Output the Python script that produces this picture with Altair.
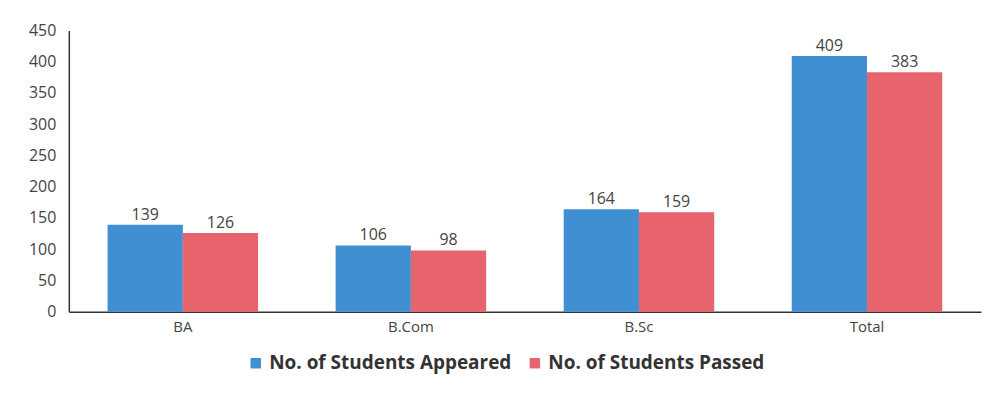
import altair as alt
import pandas as pd

categories = ["BA", "B.Com", "B.Sc", "Total"]
appeared = [139, 106, 164, 409]
passed = [126, 98, 159, 383]
series = ["No. of Students Appeared", "No. of Students Passed"]

rows = []
for c, a, p in zip(categories, appeared, passed):
    rows.append({"cat": c, "series": series[0], "value": a})
    rows.append({"cat": c, "series": series[1], "value": p})
df = pd.DataFrame(rows)

font = "Open Sans"
color = alt.Color(
    "series:N",
    sort=series,
    scale=alt.Scale(domain=series, range=["#3f8fd2", "#e8646c"]),
    legend=alt.Legend(
        orient="none", legendX=178, legendY=324, title=None, direction="horizontal",
        symbolType="square", symbolSize=110, symbolStrokeWidth=0,
        labelFont=font, labelFontSize=19, labelFontWeight="bold",
        labelColor="#333333", columnPadding=14, labelLimit=400,
    ),
)

base = alt.Chart(df).encode(
    x=alt.X("cat:N", sort=categories,
            scale=alt.Scale(paddingInner=0.34, paddingOuter=0.17),
            axis=alt.Axis(title=None, labelAngle=0, ticks=False, labelFont=font,
                          labelFontSize=15, labelColor="#444444", labelPadding=8,
                          domainColor="#333333", domainWidth=1.5)),
    y=alt.Y("value:Q", scale=alt.Scale(domain=[0, 450]),
            axis=alt.Axis(title=None, values=list(range(0, 451, 50)), ticks=False,
                          grid=False, labelOverlap=False, labelFont=font, labelFontSize=16,
                          labelColor="#444444", labelPadding=13,
                          domainColor="#333333", domainWidth=1.5)),
    xOffset=alt.XOffset("series:N", sort=series),
)

bars = base.mark_bar().encode(color=color)

labels = base.mark_text(dy=-10, font=font, fontSize=16, color="#444444").encode(
    text="value:Q",
)

chart = (bars + labels).properties(
    width=915, height=282,
    padding={"left": 20, "top": 14, "right": 5, "bottom": 5},
).configure_view(stroke=None)

chart.save("out.html", embed_options={"renderer": "svg", "actions": False})
